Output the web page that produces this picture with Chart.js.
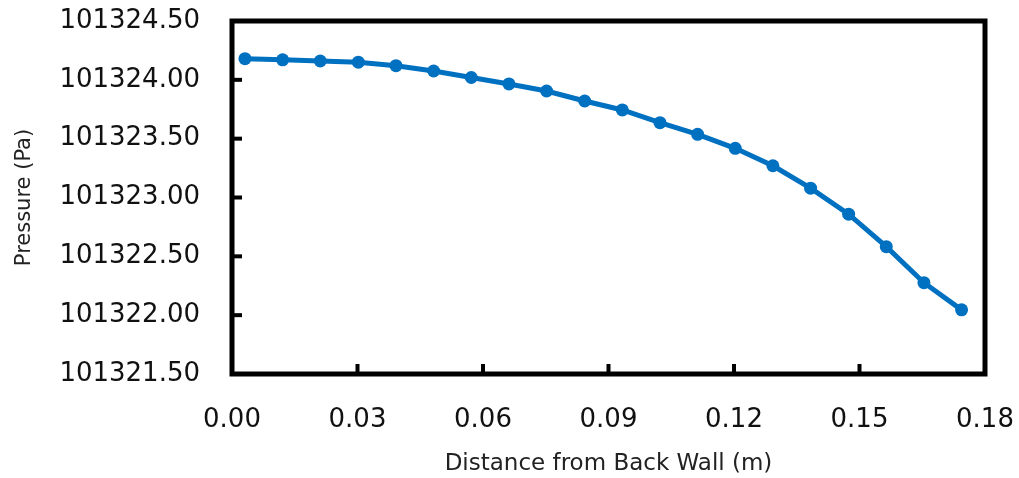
<!DOCTYPE html>
<html>
<head>
<meta charset="utf-8">
<script src="https://cdn.jsdelivr.net/npm/chart.js@4.4.1/dist/chart.umd.min.js"></script>
<style>
    body { margin: 0; background: #fff; }
    .container { width: 1019px; height: 478px; position: relative; }
</style>
</head>
<body>
<main>
    <div class="container"><canvas></canvas></div>
</main>
<script>
const distances = [0.0031, 0.0121, 0.0211, 0.0302, 0.0392, 0.0482, 0.0572, 0.0662, 0.0752, 0.0843,
    0.0933, 0.1023, 0.1113, 0.1203, 0.1293, 0.1383, 0.1474, 0.1564, 0.1654, 0.1744];
const pressures = [101324.18, 101324.17, 101324.16, 101324.15, 101324.12, 101324.075, 101324.02, 101323.965,
    101323.905, 101323.82, 101323.744, 101323.636, 101323.537, 101323.418, 101323.27, 101323.079,
    101322.858, 101322.582, 101322.276, 101322.045];
const xTicks = [0.00, 0.03, 0.06, 0.09, 0.12, 0.15, 0.18];
const yTicks = [101321.5, 101322.0, 101322.5, 101323.0, 101323.5, 101324.0, 101324.5];

const chartArea = document.querySelector("main .container canvas").getContext("2d");

const points = distances.map((d, i) => ({x: d, y: pressures[i]}));

// black frame round the plot plus the short inward tick marks
const framePlugin = {
    id: "frame",
    afterDraw: (chart) => {
        const ctx = chart.ctx;
        const a = chart.chartArea;
        const xs = chart.scales.x;
        const ys = chart.scales.y;
        ctx.save();
        ctx.strokeStyle = "#000";
        ctx.lineWidth = 4;
        xTicks.slice(1, -1).forEach(v => {
            const px = xs.getPixelForValue(v);
            ctx.beginPath();
            ctx.moveTo(px, a.bottom);
            ctx.lineTo(px, a.bottom - 10);
            ctx.stroke();
        });
        yTicks.slice(1, -1).forEach(v => {
            const py = ys.getPixelForValue(v);
            ctx.beginPath();
            ctx.moveTo(a.left, py);
            ctx.lineTo(a.left + 10, py);
            ctx.stroke();
        });
        ctx.lineWidth = 5;
        ctx.lineJoin = "miter";
        ctx.strokeRect(a.left, a.top, a.right - a.left, a.bottom - a.top);
        ctx.restore();
    }
};

const tickFont = {family: "DejaVu Sans", size: 26};
// invisible tick marks only used to push the labels away from the frame
const hiddenGrid = (len) => ({display: true, color: "rgba(0,0,0,0)", drawOnChartArea: false, drawTicks: true, tickLength: len});

const config = {
    type: "line",
    data: {
        datasets: [{
            data: points,
            borderColor: "#0070C0",
            backgroundColor: "#0070C0",
            borderWidth: 5,
            pointRadius: 6.5,
            pointBorderWidth: 0,
            pointBackgroundColor: "#0070C0",
            tension: 0,
            fill: false
        }]
    },
    options: {
        responsive: true,
        maintainAspectRatio: false,
        animation: false,
        layout: {padding: {left: 0, top: 21, right: 34, bottom: 0}},
        plugins: {
            legend: {display: false},
            tooltip: {enabled: false}
        },
        scales: {
            x: {
                type: "linear",
                min: 0,
                max: 0.18,
                afterFit: (scale) => { scale.height = 104; },
                afterBuildTicks: (scale) => { scale.ticks = xTicks.map(v => ({value: v})); },
                grid: hiddenGrid(31),
                border: {display: false},
                ticks: {
                    font: tickFont,
                    color: "#111",
                    padding: 0,
                    maxRotation: 0,
                    autoSkip: false,
                    callback: (v) => Number(v).toFixed(2)
                },
                title: {
                    display: true,
                    text: "Distance from Back Wall (m)",
                    font: {family: "DejaVu Sans", size: 23},
                    color: "#222",
                    padding: {top: 0, bottom: 0}
                }
            },
            y: {
                type: "linear",
                min: 101321.5,
                max: 101324.5,
                afterFit: (scale) => { scale.width = 232; },
                afterBuildTicks: (scale) => { scale.ticks = yTicks.map(v => ({value: v})); },
                grid: hiddenGrid(32),
                border: {display: false},
                ticks: {
                    font: tickFont,
                    color: "#111",
                    padding: 0,
                    autoSkip: false,
                    callback: (v) => Number(v).toFixed(2)
                },
                title: {
                    display: true,
                    text: "Pressure (Pa)",
                    font: {family: "DejaVu Sans", size: 21},
                    color: "#222",
                    padding: {top: 12, bottom: 0}
                }
            }
        }
    },
    plugins: [framePlugin]
};

const chart = new Chart(chartArea, config);
</script>
</body>
</html>
